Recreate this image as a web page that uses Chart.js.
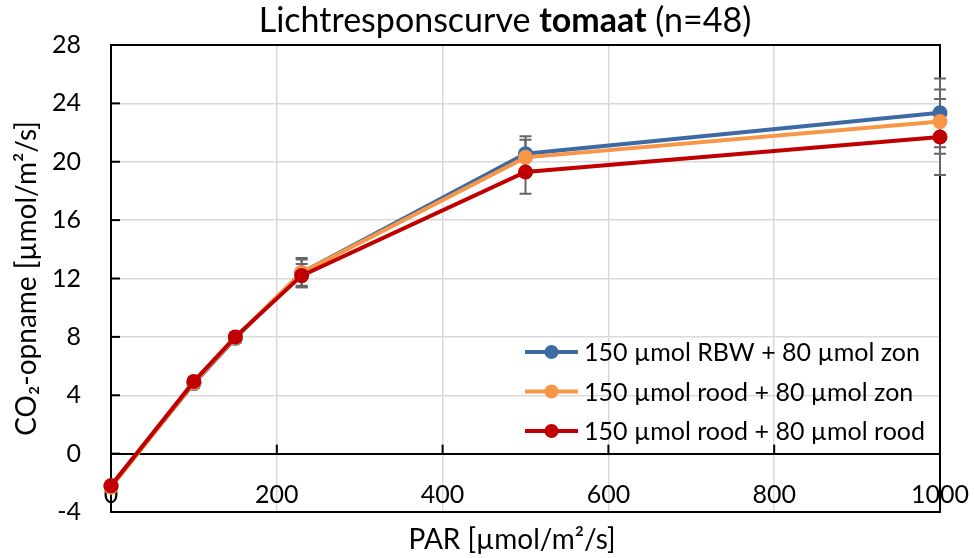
<!DOCTYPE html>
<html>
<head>
<meta charset="utf-8">
<script src="https://cdn.jsdelivr.net/npm/chart.js@4.4.0/dist/chart.umd.min.js"></script>
<style>
  html, body { margin: 0; padding: 0; background: #fff; }
  #wrap { width: 974px; height: 558px; position: relative; }
</style>
</head>
<body>
<div id="wrap"><canvas id="c" width="974" height="558"></canvas></div>
<script>
// Light intensity (PAR, µmol/m²/s) at which CO2 uptake was measured
const parValues = [0, 100, 150, 230, 500, 1000];

const seriesNames = [
  '150 µmol RBW + 80 µmol zon',
  '150 µmol rood + 80 µmol zon',
  '150 µmol rood + 80 µmol rood'
];
const seriesColors = ['#3D6AA3', '#F79646', '#C00000'];

// Mean CO2 uptake per treatment
const rbwZon   = [-2.2, 4.8, 7.9, 12.4, 20.55, 23.35];
const roodZon  = [-2.3, 4.85, 7.95, 12.4, 20.3, 22.75];
const roodRood = [-2.2, 4.95, 8.0, 12.2, 19.3, 21.7];

// Error bar half-widths per treatment
const rbwZonErr   = [0.2, 0.3, 0.3, 1.0, 1.2, 2.35];
const roodZonErr  = [0.2, 0.3, 0.3, 0.9, 1.2, 2.2];
const roodRoodErr = [0.2, 0.3, 0.3, 0.8, 1.5, 2.6];

const xMin = 0, xMax = 1000, xStep = 200;
const yMin = -4, yMax = 28, yStep = 4;

const titleParts = [
  { text: 'Lichtresponscurve ', bold: false },
  { text: 'tomaat', bold: true },
  { text: ' (n=48)', bold: false }
];
const xTitle = 'PAR [µmol/m²/s]';
const yTitle = 'CO₂-opname [µmol/m²/s]';

const FONT = 'Lato';
const seriesValues = [rbwZon, roodZon, roodRood];
const seriesErrors = [rbwZonErr, roodZonErr, roodRoodErr];

// Plot frame, inward tick marks, the y=0 axis ticks and the error bars
const framePlugin = {
  id: 'frame',
  beforeDatasetsDraw(chart) {
    const { ctx, chartArea: a, scales: { x, y } } = chart;
    ctx.save();
    ctx.strokeStyle = '#000';
    ctx.lineWidth = 2;
    ctx.strokeRect(a.left, a.top, a.right - a.left, a.bottom - a.top);

    // inward ticks on the value axis
    y.ticks.forEach(t => {
      const py = y.getPixelForValue(t.value);
      ctx.beginPath();
      ctx.moveTo(a.left, py);
      ctx.lineTo(a.left + 9, py);
      ctx.stroke();
    });
    // ticks rising from the horizontal axis at y = 0
    const y0 = y.getPixelForValue(0);
    x.ticks.forEach(t => {
      const px = x.getPixelForValue(t.value);
      ctx.beginPath();
      ctx.moveTo(px, y0);
      ctx.lineTo(px, y0 - 9);
      ctx.stroke();
    });

    // error bars
    ctx.strokeStyle = '#666666';
    ctx.lineWidth = 2;
    seriesValues.forEach((vals, s) => {
      vals.forEach((v, i) => {
        const e = seriesErrors[s][i];
        const px = x.getPixelForValue(parValues[i]);
        const top = y.getPixelForValue(v + e);
        const bot = y.getPixelForValue(v - e);
        ctx.beginPath();
        ctx.moveTo(px, top); ctx.lineTo(px, bot);
        ctx.moveTo(px - 6, top); ctx.lineTo(px + 6, top);
        ctx.moveTo(px - 6, bot); ctx.lineTo(px + 6, bot);
        ctx.stroke();
      });
    });
    ctx.restore();
  }
};

// Chart title with a bold crop name, x axis title and the legend inside the plot
const overlayPlugin = {
  id: 'overlay',
  afterDraw(chart) {
    const { ctx, chartArea: a } = chart;
    ctx.save();
    ctx.fillStyle = '#000';
    ctx.textBaseline = 'middle';

    const fontFor = p => (p.bold ? 'bold ' : '') + '34px ' + FONT;
    let total = 0;
    titleParts.forEach(p => { ctx.font = fontFor(p); total += ctx.measureText(p.text).width; });
    let tx = 505 - total / 2;
    titleParts.forEach(p => {
      ctx.font = fontFor(p);
      ctx.fillText(p.text, tx, 21);
      tx += ctx.measureText(p.text).width;
    });

    ctx.font = '28px ' + FONT;
    ctx.textAlign = 'center';
    ctx.fillText(xTitle, 512, 540);
    ctx.textAlign = 'left';

    ctx.font = '25px ' + FONT;
    chart.data.datasets.forEach((ds, i) => {
      const ly = a.top + 307 + i * 39.5;
      const lx = a.left + 414;
      ctx.strokeStyle = ds.borderColor;
      ctx.lineWidth = 4;
      ctx.beginPath();
      ctx.moveTo(lx, ly); ctx.lineTo(lx + 53, ly);
      ctx.stroke();
      ctx.fillStyle = ds.backgroundColor;
      ctx.beginPath();
      ctx.arc(lx + 26.5, ly, 7, 0, Math.PI * 2);
      ctx.fill();
      ctx.fillStyle = '#000';
      ctx.fillText(ds.label, lx + 59, ly + 1);
    });
    ctx.restore();
  }
};

function build() {
  const datasets = seriesValues.map((vals, s) => ({
    label: seriesNames[s],
    data: parValues.map((px, i) => ({ x: px, y: vals[i] })),
    borderColor: seriesColors[s],
    backgroundColor: seriesColors[s],
    borderWidth: 4,
    pointRadius: 7.5,
    pointBorderWidth: 0,
    pointHoverRadius: 7.5,
    tension: 0,
    clip: false,
    order: seriesValues.length - 1 - s
  }));

  new Chart(document.getElementById('c'), {
    type: 'line',
    data: { datasets },
    options: {
      responsive: false,
      animation: false,
      devicePixelRatio: 1,
      layout: { padding: { left: 0, top: 42, right: 34, bottom: 0 } },
      plugins: { legend: { display: false }, tooltip: { enabled: false } },
      scales: {
        x: {
          type: 'linear',
          position: 'bottom',
          min: xMin, max: xMax,
          afterFit: s => { s.height = 46; },
          ticks: {
            stepSize: xStep, color: '#000', font: { family: FONT, size: 25 },
            mirror: true, padding: 2, maxRotation: 0,
            callback: v => String(v)
          },
          grid: { color: '#d9d9d9', lineWidth: 1.5, drawTicks: false },
          border: { display: false },
          title: { display: false }
        },
        y: {
          min: yMin, max: yMax,
          afterFit: s => { s.width = 111; },
          ticks: { stepSize: yStep, color: '#000', font: { family: FONT, size: 25 }, padding: 30 },
          grid: {
            color: c => (c.tick && c.tick.value === 0 ? '#000' : '#d9d9d9'),
            lineWidth: c => (c.tick && c.tick.value === 0 ? 2 : 1.5),
            drawTicks: false
          },
          border: { display: false },
          title: { display: true, text: yTitle, color: '#000', font: { family: FONT, size: 28 }, padding: { top: 10, bottom: 0 } }
        }
      }
    },
    plugins: [framePlugin, overlayPlugin]
  });
}

if (document.fonts && document.fonts.load) {
  Promise.all([
    document.fonts.load('25px ' + FONT),
    document.fonts.load('bold 34px ' + FONT)
  ]).then(build, build);
} else {
  build();
}
</script>
</body>
</html>
